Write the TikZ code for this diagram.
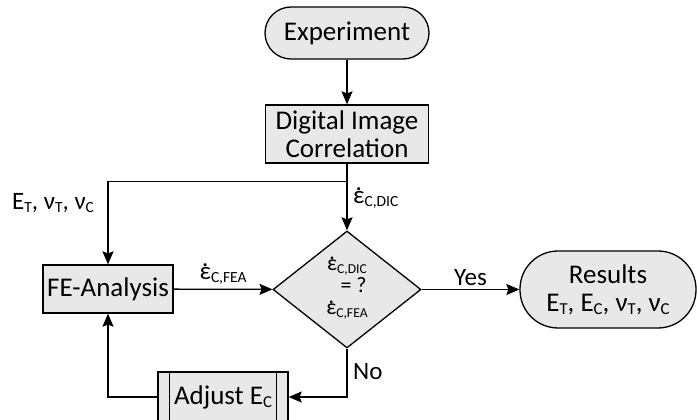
\documentclass[tikz,border=0pt]{standalone}
\usepackage{fontspec}
\setmainfont{Carlito}
\usetikzlibrary{shapes.geometric,arrows.meta}
\newcommand\sbx[1]{\raisebox{-0.12em}{\scalebox{0.62}{#1}}}
\newcommand\edot{{\ooalign{ε\cr\hidewidth\raisebox{0.52em}{.}\hidewidth\cr}}}
\definecolor{boxfill}{HTML}{E8E8E8}
\tikzset{
  base/.style={draw=black, fill=boxfill, line width=1.3pt, font=\fontsize{27}{28}\selectfont, align=center, inner sep=0pt},
  term/.style={base, rounded corners=#1},
  procbox/.style={base, rectangle},
  decision/.style={base, diamond, aspect=1.26, font=\fontsize{22}{22}\selectfont},
  arr/.style={line width=1.3pt, -{Stealth[length=13pt,width=11pt,inset=2pt]}},
  line/.style={line width=1.3pt},
  lbl/.style={font=\fontsize{25}{26}\selectfont, inner sep=2pt}
}
\begin{document}
\begin{tikzpicture}[x=1pt,y=-1pt]
\useasboundingbox (0,0) rectangle (697,420);
\node[term=26pt, minimum width=164pt, minimum height=52pt] (exp) at (347,33) {Experiment};
\node[procbox, minimum width=163pt, minimum height=58pt] (dic) at (347,134) {Digital Image\\Correlation};
\node[decision, minimum width=148pt, minimum height=117pt] (dec) at (347,289.5) {\edot\sbx{C,DIC}\\\hspace*{0.6em}= ?\\\edot\sbx{C,FEA}};
\node[procbox, minimum width=130pt, minimum height=48pt] (fe) at (108,289) {FE-Analysis};
\node[term=38pt, minimum width=176pt, minimum height=77pt] (res) at (608,289.5) {Results\\E\sbx{T}, E\sbx{C}, ν\sbx{T}, ν\sbx{C}};
\node[procbox, minimum width=130pt, minimum height=50pt] (adj) at (223,397) {Adjust E\sbx{C}};
\draw[line] ([xshift=12pt]adj.north west) -- ([xshift=12pt]adj.south west);
\draw[line] ([xshift=-12pt]adj.north east) -- ([xshift=-12pt]adj.south east);
\coordinate (br) at (347,181.5);
\coordinate (bl) at (108,181.5);
\draw[arr] (exp) -- (dic);
\draw[arr] (dic) -- (dec);
\draw[arr] (br) -- (bl) -- (fe);
\draw[arr] (fe) -- (dec) node[midway, above, lbl, yshift=2pt] {\edot\sbx{C,FEA}};
\draw[arr] (dec) -- (res) node[midway, above, lbl, yshift=1pt] {Yes};
\draw[arr] (dec.south) |- (adj.east);
\draw[arr] (adj.west) -| (fe.south);
\node[lbl, anchor=west] (ldic) at (351,200) {\edot\sbx{C,DIC}};
\node[lbl, anchor=west] (lno) at (351,372) {No};
\node[lbl, anchor=west] (lin) at (10,203) {E\sbx{T}, ν\sbx{T}, ν\sbx{C}};
\end{tikzpicture}
\end{document}
